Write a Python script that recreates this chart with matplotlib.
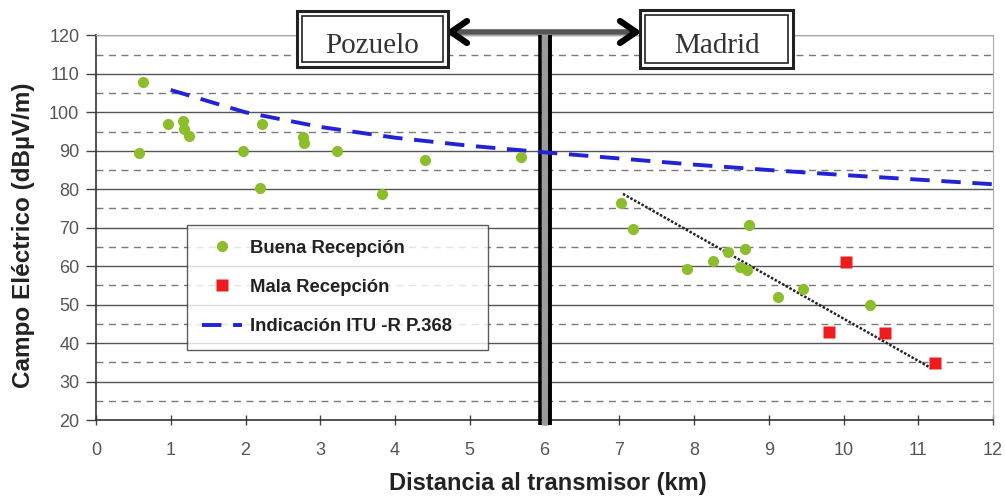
import matplotlib
matplotlib.use("Agg")
import matplotlib.pyplot as plt
from matplotlib.patches import Rectangle, FancyArrowPatch
from matplotlib.lines import Line2D

plt.rcParams['font.family'] = ['Liberation Sans', 'DejaVu Sans']

# Data
buena_x = [0.58, 0.63, 0.96, 1.16, 1.18, 1.25, 1.96, 2.22, 2.19, 2.77, 2.78, 3.22, 3.82, 4.40, 5.68,
           7.03, 7.18, 8.74, 8.68, 8.45, 8.25, 7.90, 8.61, 8.71, 9.46, 9.12, 10.35]
buena_y = [89.4, 108.0, 97.0, 97.8, 95.7, 93.8, 90.0, 97.0, 80.4, 93.7, 92.1, 90.0, 78.8, 87.6, 88.3,
           76.3, 69.6, 70.7, 64.4, 63.8, 61.3, 59.3, 59.9, 59.0, 54.0, 52.1, 49.8]
mala_x = [10.04, 9.81, 10.55, 11.23]
mala_y = [61.0, 43.0, 42.5, 34.9]
itu_x = [1, 2, 3, 4, 5, 6, 7, 8, 9, 10, 11, 12]
itu_y = [105.8, 100.0, 96.2, 93.4, 91.3, 89.6, 88.0, 86.4, 85.0, 83.7, 82.5, 81.3]
trend_x = [7.05, 11.18]
trend_y = [78.8, 33.4]
x_ticks = list(range(0, 13))
y_ticks = list(range(20, 121, 10))
y_minor = list(range(25, 120, 10))
labels = ["Buena Recepción", "Mala Recepción", "Indicación ITU -R P.368"]
zones = ["Pozuelo", "Madrid"]
xlabel = "Distancia al transmisor (km)"
ylabel = "Campo Eléctrico (dBµV/m)"

W, H = 1005, 498
fig = plt.figure(figsize=(W / 100, H / 100), dpi=100)
ax = fig.add_axes([96 / W, 1 - 420 / H, (993 - 96) / W, (420 - 35.4) / H])
ax.set_xlim(0, 12)
ax.set_ylim(20, 120)

# grid
for yv in y_ticks[1:]:
    ax.axhline(yv, color='#555555', lw=1.0, zorder=1)
for yv in y_minor:
    ax.axhline(yv, color='#7a7a7a', lw=1.0, ls=(0, (5, 4)), zorder=1)

# vertical divider at 6 km
for xv, lw, c in [(6.003, 5.0, '#9a9a9a'), (5.935, 2.6, 'black'), (6.072, 2.8, 'black')]:
    ax.plot([xv, xv], [18.7, 120], color=c, lw=lw, zorder=3, clip_on=False, solid_capstyle='butt')

l_itu, = ax.plot(itu_x, itu_y, color='#2323d6', lw=2.8, ls=(0, (5, 3)), zorder=4, label=labels[2])
ax.plot(trend_x, trend_y, color='#222222', lw=1.8, ls=(0, (1, 0.7)), zorder=4)
l_b, = ax.plot(buena_x, buena_y, 'o', color='#8cbd2a', ms=8, mec='none', zorder=5, label=labels[0])
l_m, = ax.plot(mala_x, mala_y, 's', color='#ee1c1c', ms=8.5, mec='none', zorder=5, label=labels[1])

ax.set_xticks(x_ticks)
ax.set_yticks(y_ticks)
ax.tick_params(axis='both', labelsize=13, labelcolor='#555555', color='#444444', width=1)
ax.tick_params(axis='x', direction='inout', length=7, pad=12)
ax.tick_params(axis='y', direction='out', length=7, pad=5)
for s in ['left', 'bottom']:
    ax.spines[s].set_color('#333333')
    ax.spines[s].set_linewidth(1.2)
for s in ['top', 'right']:
    ax.spines[s].set_color('#aaaaaa')
    ax.spines[s].set_linewidth(0.8)

ax.set_xlabel(xlabel, fontsize=17, fontweight='bold', color='#222222', va='center')
ax.xaxis.set_label_coords(0.504, (420 - 483) / 384.6)
ax.set_ylabel(ylabel, fontsize=17.5, fontweight='bold', color='#222222', va='center')
ax.yaxis.set_label_coords((23.5 - 96) / 897, 0.48)

lx0 = (187 - 96) / 897
lx1 = (488 - 96) / 897
ly1 = (420 - 225) / 384.6
leg = ax.legend(handles=[l_b, l_m, l_itu], loc='upper left',
                bbox_to_anchor=(lx0, ly1 - 0.4, lx1 - lx0, 0.4), mode='expand',
                prop={'size': 13.3, 'weight': 'bold'}, frameon=True, fancybox=False, labelspacing=1.2,
                borderpad=0.8, handlelength=2.2, handletextpad=0.4, borderaxespad=0)
leg.get_frame().set_edgecolor('#333333')
leg.get_frame().set_linewidth(1.0)
for t in leg.get_texts():
    t.set_color('#222222')
leg.set_zorder(6)

# header boxes (figure pixel coords)
def fx(p):
    return p / W

def fy(p):
    return 1 - p / H

def double_box(x0, x1, y0, y1, text):
    fig.patches.append(Rectangle((fx(x0), fy(y1)), fx(x1 - x0), (y1 - y0) / H,
                                 transform=fig.transFigure, facecolor='white',
                                 edgecolor='#222222', lw=2.2, zorder=10))
    d = 5
    fig.patches.append(Rectangle((fx(x0 + d), fy(y1 - d)), fx(x1 - x0 - 2 * d), (y1 - y0 - 2 * d) / H,
                                 transform=fig.transFigure, facecolor='white',
                                 edgecolor='#222222', lw=1.2, zorder=11))
    fig.text(fx((x0 + x1) / 2), fy(53), text, ha='center', va='baseline',
             fontsize=21, family=['Liberation Serif', 'DejaVu Serif'], color='#333333', zorder=12)

double_box(297, 448, 11, 67, zones[0])
double_box(640, 793, 10, 68, zones[1])

arr = FancyArrowPatch((fx(450), fy(32)), (fx(638), fy(32)), transform=fig.transFigure,
                      arrowstyle='-', color='#555555', lw=4, zorder=9)
fig.patches.append(arr)
for (xa, xb) in [(451, 467), (636, 620)]:
    for yb in (21, 43):
        fig.lines.append(Line2D([fx(xa), fx(xb)], [fy(32), fy(yb)], transform=fig.transFigure,
                                color='black', lw=4.5, zorder=9.5, solid_capstyle='round'))

fig.savefig("out.png", dpi=100)
